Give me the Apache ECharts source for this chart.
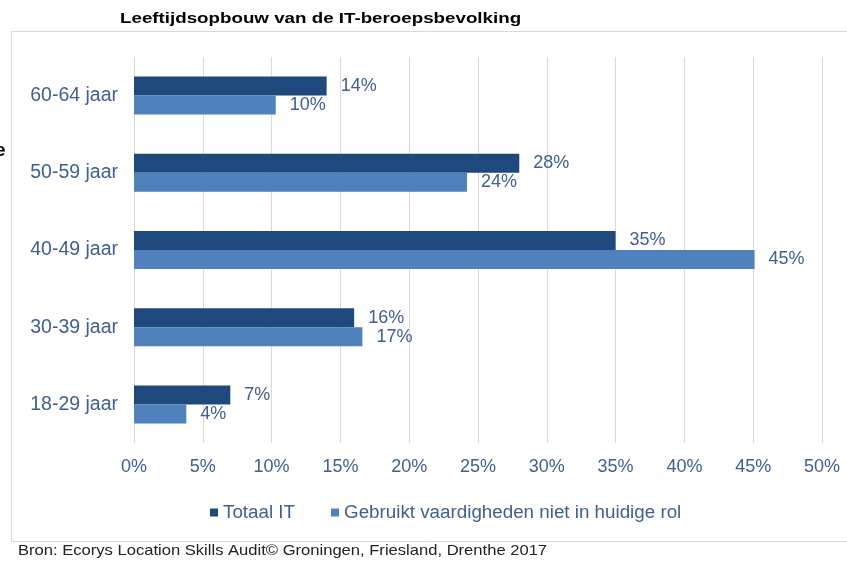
<!DOCTYPE html>
<html>
<head>
<meta charset="utf-8">
<script src="https://cdn.jsdelivr.net/npm/echarts@6/dist/echarts.min.js"></script>
<style>
  html, body { margin: 0; padding: 0; background: #fff; }
  #chart { width: 847px; height: 563px; }
</style>
</head>
<body>
<div id="chart"></div>
<script>
// Age groups, top to bottom
const categories = ['60-64 jaar', '50-59 jaar', '40-49 jaar', '30-39 jaar', '18-29 jaar'];
const totaalIT = [14, 28, 35, 16, 7];
const gebruiktNiet = [10.3, 24.2, 45.1, 16.6, 3.8];
const seriesNames = ['Totaal IT', 'Gebruikt vaardigheden niet in huidige rol'];
const xTicks = [0, 5, 10, 15, 20, 25, 30, 35, 40, 45, 50];

const textColor = '#41608f';
const fontFamily = '"Liberation Sans", Arial, sans-serif';

const chart = echarts.init(document.getElementById('chart'));

function labelOpt() {
    return {
        show: true,
        position: 'right',
        distance: 14,
        color: textColor,
        fontSize: 18,
        fontFamily: fontFamily,
        formatter: p => Math.round(p.value) + '%'
    };
}

chart.setOption({
    animation: false,
    graphic: [
        {
            type: 'rect',
            shape: { x: 11.5, y: 31.5, width: 900, height: 510 },
            style: { fill: 'none', stroke: '#d9d9d9', lineWidth: 1 }
        },
        {
            type: 'text',
            x: 120, y: 11,
            scaleX: 1.25,
            style: { text: 'Leeftijdsopbouw van de IT-beroepsbevolking', font: 'bold 15px "Liberation Sans", Arial, sans-serif', fill: '#000' }
        },
        {
            type: 'text',
            left: -5, top: 141,
            style: { text: 'e', font: 'bold 19px "Liberation Sans", Arial, sans-serif', fill: '#000' }
        },
        {
            type: 'text',
            x: 18, y: 543,
            scaleX: 1.105,
            style: { text: 'Bron: Ecorys Location Skills Audit\u00a9 Groningen, Friesland, Drenthe 2017', font: '15px "Liberation Sans", Arial, sans-serif', fill: '#222' }
        }
    ],
    legend: {
        data: seriesNames,
        left: 205,
        top: 498,
        icon: 'rect',
        itemWidth: 8,
        itemHeight: 8,
        itemGap: 36,
        textStyle: { color: textColor, fontSize: 18.8, fontFamily: fontFamily }
    },
    grid: { left: 134, right: 25, top: 57, bottom: 120 },
    xAxis: {
        type: 'value',
        min: 0,
        max: 50,
        interval: 5,
        axisLine: { show: false },
        axisTick: { show: false },
        splitLine: { show: true, lineStyle: { color: '#d9d9d9', width: 1 } },
        axisLabel: {
            color: textColor,
            fontSize: 18,
            fontFamily: fontFamily,
            margin: 15,
            formatter: v => xTicks.includes(v) ? v + '%' : ''
        }
    },
    yAxis: {
        type: 'category',
        inverse: true,
        data: categories,
        axisLine: { show: false },
        axisTick: { show: false },
        axisLabel: { color: textColor, fontSize: 19.5, fontFamily: fontFamily, margin: 16 }
    },
    series: [
        {
            name: seriesNames[0],
            type: 'bar',
            data: totaalIT,
            barWidth: 19,
            barGap: '0%',
            itemStyle: { color: '#1f497d' },
            label: labelOpt()
        },
        {
            name: seriesNames[1],
            type: 'bar',
            data: gebruiktNiet,
            barWidth: 19,
            barGap: '0%',
            itemStyle: { color: '#4f81bd' },
            label: labelOpt()
        }
    ]
});
</script>
</body>
</html>
